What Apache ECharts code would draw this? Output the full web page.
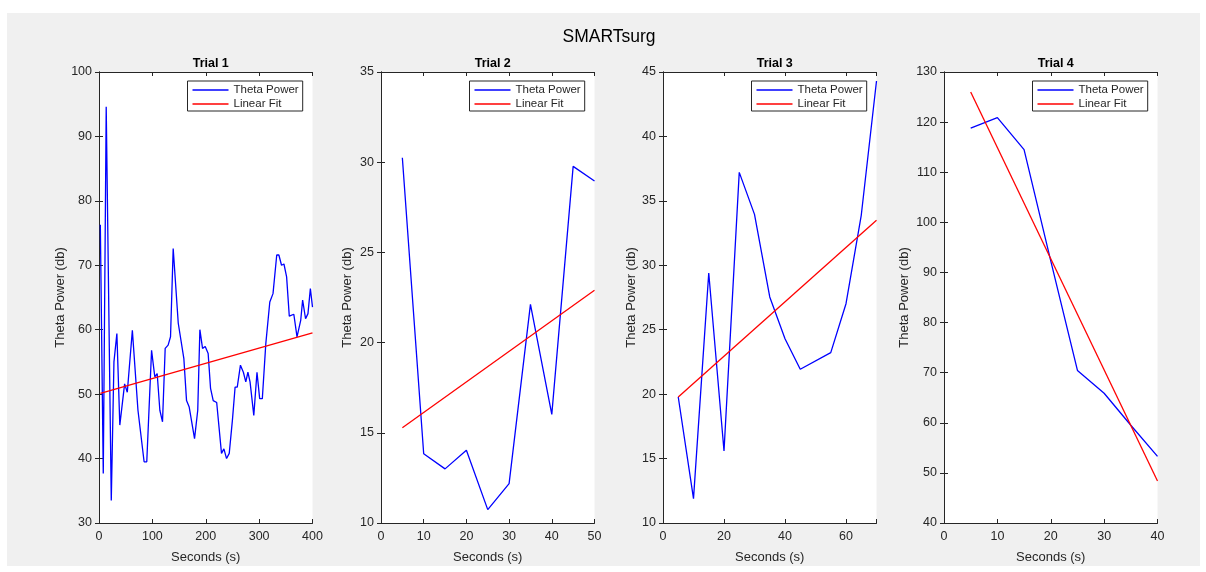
<!DOCTYPE html>
<html>
<head>
<meta charset="utf-8">
<script src="https://cdn.jsdelivr.net/npm/echarts@6/dist/echarts.min.js"></script>
<style>
  html, body { margin: 0; padding: 0; background: #ffffff; }
  #frame { position: absolute; left: 7px; top: 13px; width: 1193px; height: 553px; background: #f0f0f0; }
  #chart { position: absolute; left: 0; top: 0; width: 1206px; height: 572px; }
</style>
</head>
<body>
<div id="frame"></div>
<div id="chart"></div>
<script>
// Trial 1: theta power over time (seconds, dB)
const trial1Sec = [2.5, 8, 13.5, 23, 28, 33.5, 39, 48, 51, 53, 62.5, 73, 84.5, 89.5, 98.5, 104.5, 109, 114, 119, 124,
  129.5, 134, 139, 148.5, 159, 164, 169, 179, 185, 189, 194, 199, 204.5, 209, 214, 220.5, 229.5, 234, 239, 244,
  250, 255, 259, 265, 270.5, 275, 279, 283, 290, 296, 301, 306, 312.5, 320, 326, 333, 337, 342, 346.5, 351.5,
  356.5, 365, 371, 378, 381.5, 387, 391.5, 396, 400];
const trial1Pow = [76.3, 37.7, 94.6, 33.5, 55, 59.4, 45.2, 51.6, 51.5, 50.3, 59.9, 47.5, 39.5, 39.5, 56.8, 52.7, 53.2, 47.5, 45.7, 57.1,
  57.6, 58.9, 72.6, 61, 55.5, 49, 48, 43.1, 47.5, 60, 57.1, 57.4, 56.3, 50.9, 49, 48.7, 40.8, 41.5, 40, 40.8,
  46, 51.1, 51.1, 54.5, 53.4, 51.9, 53.4, 51.9, 46.7, 53.4, 49.3, 49.3, 57.8, 64.3, 65.6, 71.6, 71.6, 70, 70.2, 68.2,
  62.1, 62.4, 58.9, 61.5, 64.6, 61.7, 62.5, 66.4, 63.5];
const fit1Sec = [2.5, 400];
const fit1Pow = [50.1, 59.5];

// Trial 2
const trial2Sec = [5, 10, 15, 20, 25, 30, 35, 40, 45, 50];
const trial2Pow = [30.25, 13.84, 13.0, 14.03, 10.74, 12.18, 22.12, 16.02, 29.77, 28.96];
const fit2Sec = [5, 50];
const fit2Pow = [15.28, 22.9];

// Trial 3
const trial3Sec = [5, 10, 15, 20, 25, 30, 35, 40, 45, 55, 60, 65, 70];
const trial3Pow = [19.78, 11.89, 29.4, 15.59, 37.21, 33.95, 27.54, 24.3, 21.93, 23.22, 27.02, 33.88, 44.3];
const fit3Sec = [5, 70];
const fit3Pow = [19.78, 33.49];

// Trial 4
const trial4Sec = [5, 10, 15, 20, 25, 30, 35, 40];
const trial4Pow = [118.8, 120.9, 114.5, 92.3, 70.45, 65.9, 59.5, 53.3];
const fit4Sec = [5, 40];
const fit4Pow = [126, 48.4];

// Axis limits per trial: [min, max, tick step]
const xLimits = [[0, 400, 100], [0, 50, 10], [0, 70, 20], [0, 40, 10]];
const yLimits = [[30, 100, 10], [10, 35, 5], [10, 45, 5], [40, 130, 10]];

const panelTitles = ['Trial 1', 'Trial 2', 'Trial 3', 'Trial 4'];
const mainTitle = 'SMARTsurg';
const xName = 'Seconds (s)';
const yName = 'Theta Power (db)';
const seriesNames = ['Theta Power', 'Linear Fit'];

const trials = [
  [trial1Sec, trial1Pow, fit1Sec, fit1Pow],
  [trial2Sec, trial2Pow, fit2Sec, fit2Pow],
  [trial3Sec, trial3Pow, fit3Sec, fit3Pow],
  [trial4Sec, trial4Pow, fit4Sec, fit4Pow]
];

const pair = (xs, ys) => xs.map((x, i) => [x, ys[i]]);

const FONT = 'Liberation Sans, Arial, Helvetica, sans-serif';
const AXIS_COLOR = '#262626';
const gridLefts = [99, 381, 663, 944];
const gridW = 213.5, gridTop = 72, gridH = 451;
const yNameGaps = [31, 27, 25, 33];

const grid = [], xAxis = [], yAxis = [], series = [], legend = [], title = [];

title.push({
  text: mainTitle, left: 604, top: 23, textAlign: 'center',
  textStyle: { fontFamily: FONT, fontSize: 17.5, fontWeight: 'normal', color: '#000' }
});

trials.forEach((t, i) => {
  const [xs, ys, fxs, fys] = t;
  const [xMin, xMax, xStep] = xLimits[i];
  const [yMin, yMax, yStep] = yLimits[i];
  grid.push({ left: gridLefts[i], top: gridTop, width: gridW, height: gridH, show: true,
    backgroundColor: '#ffffff', borderWidth: 0 });

  title.push({
    text: panelTitles[i], left: gridLefts[i] + gridW / 2, top: 52, textAlign: 'center',
    textStyle: { fontFamily: FONT, fontSize: 12.5, fontWeight: 'bold', color: '#000' }
  });

  const lineStyle = { color: AXIS_COLOR, width: 1 };
  const tick = { show: true, inside: true, length: 4, lineStyle: lineStyle };
  const base = { type: 'value', gridIndex: i, splitLine: { show: false }, axisLine: { show: true, lineStyle: lineStyle }, axisTick: tick };

  xAxis.push(Object.assign({}, base, {
    position: 'bottom', min: xMin, max: xMax, interval: xStep,
    name: xName, nameLocation: 'middle', nameGap: 28,
    nameTextStyle: { fontFamily: FONT, fontSize: 13, color: AXIS_COLOR },
    axisLabel: { margin: 7, fontFamily: FONT, fontSize: 12.5, color: AXIS_COLOR,
      formatter: v => (Math.abs(v / xStep - Math.round(v / xStep)) < 1e-9 ? String(v) : '') }
  }));
  xAxis.push(Object.assign({}, base, {
    position: 'top', min: xMin, max: xMax, interval: xStep, axisLabel: { show: false }
  }));
  yAxis.push(Object.assign({}, base, {
    position: 'left', min: yMin, max: yMax, interval: yStep,
    name: yName, nameLocation: 'middle', nameGap: yNameGaps[i],
    nameTextStyle: { fontFamily: FONT, fontSize: 13, color: AXIS_COLOR },
    axisLabel: { margin: 7, fontFamily: FONT, fontSize: 12.5, color: AXIS_COLOR }
  }));
  yAxis.push(Object.assign({}, base, {
    position: 'right', min: yMin, max: yMax, interval: yStep, axisLabel: { show: false }
  }));

  series.push({
    name: seriesNames[0], type: 'line', xAxisIndex: 2 * i, yAxisIndex: 2 * i,
    data: pair(xs, ys), symbol: 'none', animation: false,
    lineStyle: { color: '#0000ff', width: 1.3 }, itemStyle: { color: '#0000ff' }
  });
  series.push({
    name: seriesNames[1], type: 'line', xAxisIndex: 2 * i, yAxisIndex: 2 * i,
    data: pair(fxs, fys), symbol: 'none', animation: false,
    lineStyle: { color: '#ff0000', width: 1.3 }, itemStyle: { color: '#ff0000' }
  });

  legend.push({
    data: seriesNames, orient: 'vertical', icon: 'rect',
    left: gridLefts[i] + gridW - 10 - 115, top: 81,
    padding: [3, 4, 1, 5], itemGap: 2, itemWidth: 36, itemHeight: 1.5,
    backgroundColor: '#ffffff', borderColor: AXIS_COLOR, borderWidth: 1,
    textStyle: { fontFamily: FONT, fontSize: 11.5, lineHeight: 12, color: AXIS_COLOR },
    selectedMode: false
  });
});

const chart = echarts.init(document.getElementById('chart'), null, { renderer: 'canvas' });
chart.setOption({
  backgroundColor: 'transparent',
  animation: false,
  title, grid, xAxis, yAxis, series, legend
});
</script>
</body>
</html>
